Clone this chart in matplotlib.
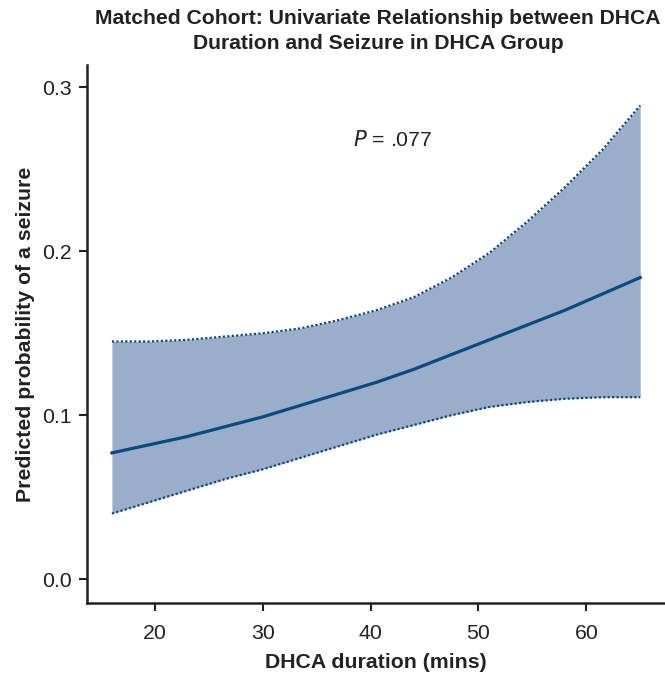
import matplotlib
matplotlib.use("Agg")
import matplotlib.pyplot as plt

duration = [16, 19.5, 23, 26.5, 30, 33.5, 37, 40.5, 44, 47.5, 51, 54.5, 58, 61.5, 65]
pred = [0.077, 0.082, 0.087, 0.093, 0.099, 0.106, 0.113, 0.120, 0.128, 0.137, 0.146, 0.155, 0.164, 0.174, 0.184]
upper = [0.145, 0.145, 0.146, 0.148, 0.150, 0.153, 0.158, 0.164, 0.172, 0.184, 0.199, 0.218, 0.239, 0.262, 0.289]
lower = [0.040, 0.047, 0.054, 0.061, 0.067, 0.074, 0.081, 0.088, 0.094, 0.100, 0.105, 0.108, 0.110, 0.111, 0.111]
xticks = [20, 30, 40, 50, 60]
yticks = [0.0, 0.1, 0.2, 0.3]

plt.rcParams['font.family'] = ['Liberation Sans', 'DejaVu Sans']

fig = plt.figure(figsize=(6.65, 6.73), dpi=100)
ax = fig.add_axes([87/665, 70/673, 578/665, 538/673])

line_c = '#0a4a7d'
fill_c = '#9aaecb'
ax.fill_between(duration, lower, upper, color=fill_c, linewidth=0)
ax.plot(duration, upper, color=line_c, linestyle=(0, (1, 1)), linewidth=1.6)
ax.plot(duration, lower, color=line_c, linestyle=(0, (1, 1)), linewidth=1.6)
ax.plot(duration, pred, color=line_c, linewidth=2.3, solid_joinstyle='round')

ax.set_xlim(13.69, 67.3)
ax.set_ylim(-0.0146, 0.3137)
ax.set_xticks(xticks)
ax.set_yticks(yticks)
ax.set_xticklabels([str(t) for t in xticks])
ax.set_yticklabels([f"{t:.1f}" for t in yticks])

fs = 15.3
for s in ['top', 'right']:
    ax.spines[s].set_visible(False)
for s in ['left', 'bottom']:
    ax.spines[s].set_linewidth(1.8)
    ax.spines[s].set_color('#222222')
ax.tick_params(axis='both', direction='out', length=6, width=1.5, labelsize=fs,
               color='#222222', labelcolor='#222222', pad=5)
ax.tick_params(axis='x', pad=9)

ax.set_xlabel('DHCA duration (mins)', fontsize=fs, fontweight='bold', color='#222222', labelpad=7)
ax.set_ylabel('Predicted probability of a seizure', fontsize=fs, fontweight='bold', color='#222222', labelpad=5)

fig.text(378/665, 1 - 31/673, 'Matched Cohort: Univariate Relationship between DHCA\nDuration and Seizure in DHCA Group',
         ha='center', va='center', fontsize=15.2, fontweight='bold', color='#222222', linespacing=1.35)

ax.text(42.0, 0.268, r'$\it{P}$ = .077', ha='center', va='center', fontsize=fs, color='#222222')

fig.savefig('out.png', dpi=100)
